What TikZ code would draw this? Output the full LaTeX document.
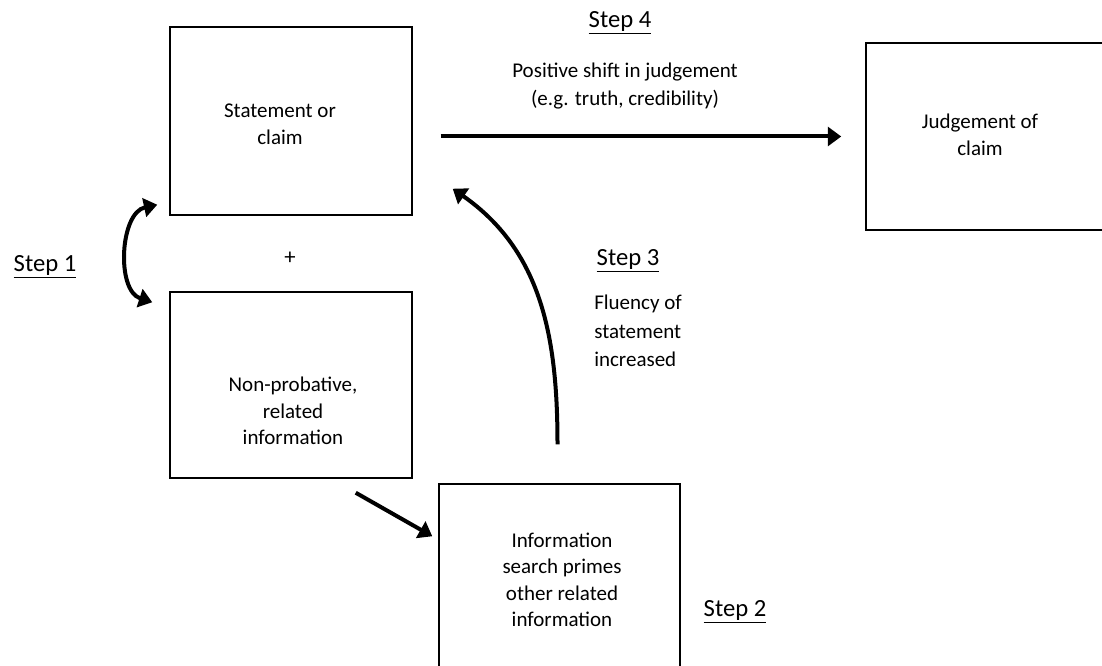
\documentclass[tikz,border=0pt]{standalone}
\usepackage{fontspec}
\setmainfont{Carlito}
\usetikzlibrary{arrows.meta, calc}
\tikzstyle{block} = [draw, rectangle, line width=1.1pt, inner sep=0pt]
\tikzstyle{txt} = [align=center, inner sep=0pt, font=\fontsize{15.75}{19.9}\selectfont]
\tikzstyle{steptxt} = [inner sep=0pt, font=\fontsize{18.5}{22}\selectfont]
\tikzstyle{wire} = [line width=3pt, -{Triangle[length=10pt, width=14pt]}]
\tikzstyle{dwire} = [line width=3pt, {Triangle[length=10pt, width=14pt]}-{Triangle[length=10pt, width=14pt]}]

\begin{document}
\begin{tikzpicture}[x=0.75pt, y=-0.75pt]
    \clip (0,0) rectangle (1102,666);
    % boxes
    \node[block, minimum width=181.5pt, minimum height=141pt] (stmt) at (291,121) {};
    \node[block, minimum width=183pt, minimum height=140.25pt] (judge) at (988,136.5) {};
    \node[block, minimum width=181.5pt, minimum height=139.5pt] (nonprob) at (291,385) {};
    \node[block, minimum width=180.75pt, minimum height=154.5pt] (search) at (559.5,587) {};
    % texts in boxes
    \node[txt] (stmt-txt) at (280,124) {Statement or\\claim};
    \node[txt] (judge-txt) at (980,135) {Judgement of\\claim};
    \node[txt] (nonprob-txt) at (293,411) {Non-probative,\\related\\information};
    \node[txt] (search-txt) at (562,580) {Information\\search primes\\other related\\information};
    \node[txt, font=\fontsize{17}{20}\selectfont] (plus) at (290,258) {+};
    % steps
    \node[steptxt] (step1) at (45,267) {\underline{Step 1}};
    \node[steptxt] (step2) at (735,612) {\underline{Step 2}};
    \node[steptxt] (step3) at (628,261) {\underline{Step 3}};
    \node[steptxt] (step4) at (620,23) {\underline{Step 4}};
    \node[txt, font=\fontsize{15.75}{21}\selectfont] (shift-txt) at (625,86) {Positive shift in judgement\\(e.g. truth, credibility)};
    \node[txt, align=left, anchor=west, font=\fontsize{15.75}{21.5}\selectfont] (fluency-txt) at (594,331) {Fluency of\\statement\\increased};
    % arrows
    \draw[wire] ($(stmt.east |- judge.west)+(28,0)$) -- ($(judge.west)+(-24,0)$);
    \draw[dwire] ($(stmt.south west)+(-12,-11)$) to[bend right=75] ($(nonprob.north west)+(-17,11)$);
    \draw[wire] ($(nonprob.south east)+(-57,14)$) -- ($(search.north west)+(-6,53)$);
    \draw[wire] ($(search.north)+(-2,-39)$) to[out=90, in=-35] ($(stmt.south east)+(40,-27)$);
\end{tikzpicture}
\end{document}
